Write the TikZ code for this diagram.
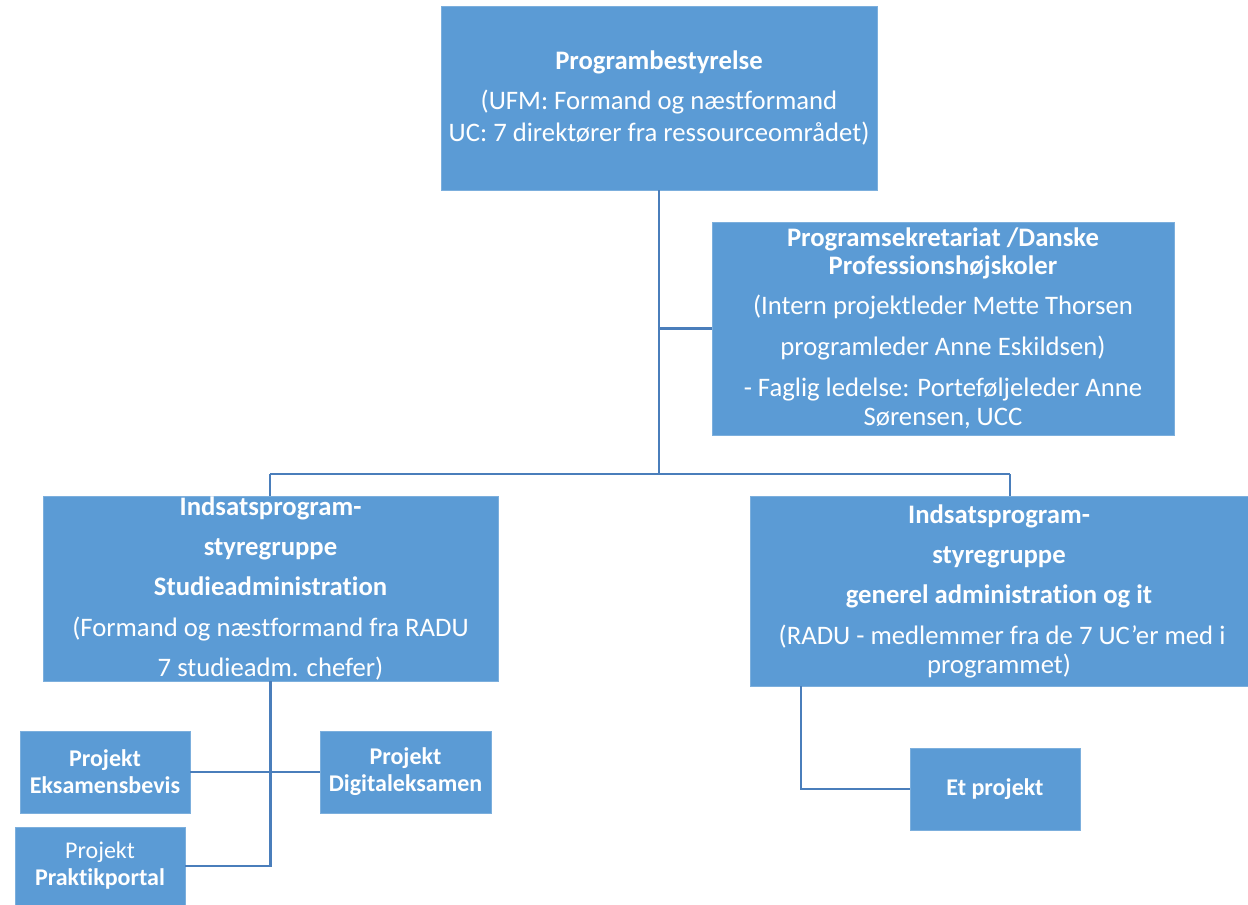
\documentclass[tikz,border=0pt]{standalone}
\usepackage{fontspec}
\setmainfont{Carlito}[Ligatures=NoCommon]
\usetikzlibrary{positioning}
\definecolor{boxblue}{HTML}{5B9BD5}
\definecolor{lineblue}{HTML}{4A7EBB}
\tikzset{orgbox/.style={rectangle, fill=boxblue, draw=boxblue!80!white, line width=0.6pt, text=white, align=center, inner sep=0pt, font=\fontsize{26.7}{28}\selectfont}}
\tikzset{projbox/.style={orgbox, minimum width=170pt, minimum height=82pt, font=\fontsize{24}{27}\selectfont}}
\tikzset{link/.style={draw=lineblue, line width=2.2pt}}

\begin{document}
\begin{tikzpicture}[x=1pt, y=-1pt]
\useasboundingbox (0,0) rectangle (1248,905);
\node[orgbox, minimum width=436pt, minimum height=184pt] (bestyrelse) at (659,98) {\textbf{Programbestyrelse}\\[12pt] (UFM: Formand og næstformand\\[4pt] UC: 7 direktører fra ressourceområdet)};
\node[orgbox, minimum width=462pt, minimum height=213pt] (sekretariat) at (943,328.5) {\textbf{Programsekretariat /Danske}\\ \textbf{Professionshøjskoler}\\[12pt] (Intern projektleder Mette Thorsen\\[13pt] programleder Anne Eskildsen)\\[13pt] - Faglig ledelse: Porteføljeleder Anne\\[1pt] Sørensen, UCC};
\node[orgbox, minimum width=455pt, minimum height=185pt] (studie) at (270.5,588.5) {\textbf{Indsatsprogram-}\\[12pt] \textbf{styregruppe}\\[12pt] \textbf{Studieadministration}\\[13pt] (Formand og næstformand fra RADU\\[12pt] 7 studieadm. chefer)};
\node[orgbox, minimum width=498pt, minimum height=190pt] (generel) at (999,591) {\textbf{Indsatsprogram-}\\[12pt] \textbf{styregruppe}\\[12pt] \textbf{generel administration og it}\\[13pt] \ (RADU - medlemmer fra de 7 UC’er med i\\[1pt] programmet)};
\node[projbox] (eksamensbevis) at (105,772) {\textbf{Projekt}\\ \textbf{Eksamensbevis}};
\node[projbox, minimum width=171pt] (digital) at (405.5,772) {\textbf{Projekt}\\ \textbf{Digitaleksamen}};
\node[projbox, minimum height=78pt] (praktik) at (100,866) {Projekt\\ \textbf{Praktikportal}};
\node[projbox] (etprojekt) at (995,789) {\textbf{Et projekt}};

\coordinate (barL) at (270,474);
\coordinate (barR) at (1010,474);
\draw[link] (bestyrelse.south) -- (bestyrelse.south |- barL);
\draw[link] (bestyrelse.south |- sekretariat.west) -- (sekretariat.west);
\draw[link] (barL) -- (barR);
\draw[link] (barL) -- (barL |- studie.north);
\draw[link] (barR) -- (barR |- generel.north);
\draw[link] (studie.south) -- (studie.south |- praktik.east) -- (praktik.east);
\draw[link] (eksamensbevis.east) -- (digital.west);
\draw[link] ([xshift=51pt]generel.south west) |- (etprojekt.west);

\end{tikzpicture}
\end{document}
